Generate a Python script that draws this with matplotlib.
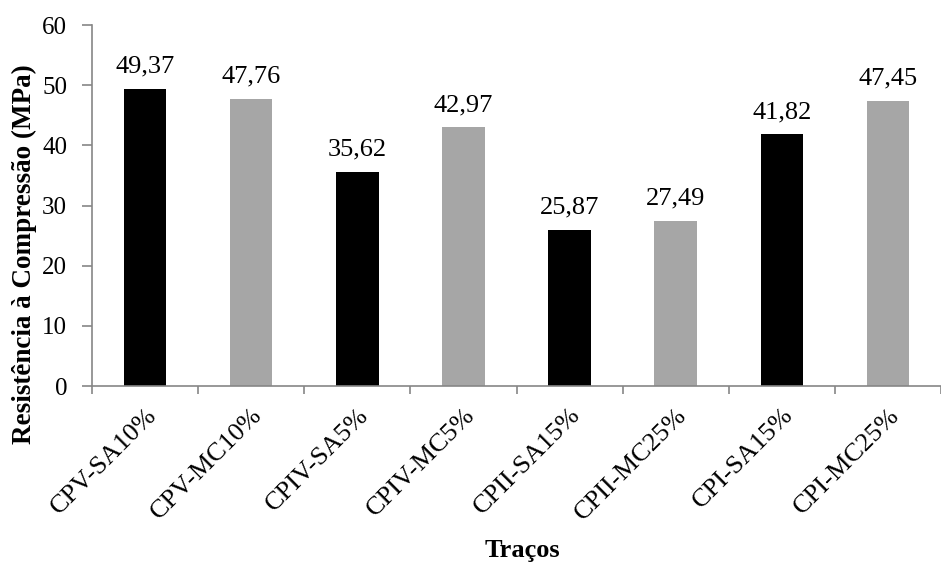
import numpy as np
import matplotlib.pyplot as plt

plt.rcParams['font.family'] = ['Liberation Serif', 'DejaVu Serif']

# ====== DATA ======
categories = ["CPV-SA10%", "CPV-MC10%", "CPIV-SA5%", "CPIV-MC5%",
              "CPII-SA15%", "CPII-MC25%", "CPI-SA15%", "CPI-MC25%"]
values = [49.37, 47.76, 35.62, 42.97, 25.87, 27.49, 41.82, 47.45]
labels = ["49,37", "47,76", "35,62", "42,97", "25,87", "27,49", "41,82", "47,45"]
colors = ["#000000", "#a6a6a6"] * 4

SPINE = "#868686"


def main():
    fig = plt.figure(figsize=(9.41, 5.67), dpi=100)
    ax = fig.add_axes([0.0978, 0.3192, 0.9022, 0.6367])

    x = np.arange(len(categories))
    ax.bar(x, values, width=0.4, color=colors, zorder=2)

    for xi, v, lab in zip(x, values, labels):
        ax.text(xi, v + 1.9, lab, ha="center", va="bottom", fontsize=19)

    ax.set_ylim(0, 60)
    ax.set_yticks(np.arange(0, 61, 10))
    ax.set_xlim(-0.5, 7.39)

    # category labels at centres, tick marks between categories
    ax.set_xticks(x)
    ax.set_xticklabels(categories, rotation=45, ha="right", rotation_mode="anchor",
                       fontsize=19)
    ax.tick_params(axis="x", which="major", length=0, pad=13)
    ax.set_xticks(np.arange(-0.5, 8.0, 1.0), minor=True)
    ax.tick_params(axis="x", which="minor", length=6, color=SPINE, width=1.2)
    ax.tick_params(axis="y", length=7, color=SPINE, width=1.2, labelsize=18, pad=11)

    for side in ("top", "right"):
        ax.spines[side].set_visible(False)
    for side in ("left", "bottom"):
        ax.spines[side].set_color(SPINE)
        ax.spines[side].set_linewidth(1.2)

    fig.text(24 / 941, 1 - 254 / 567, "Resistência à Compressão (MPa)", rotation=90,
             ha="center", va="center", fontsize=19.5, fontweight="bold")
    fig.text(522 / 941, 1 - 551 / 567, "Traços", ha="center", va="center",
             fontsize=19, fontweight="bold")

    fig.savefig("out.png", dpi=100, facecolor="white")


if __name__ == "__main__":
    main()
